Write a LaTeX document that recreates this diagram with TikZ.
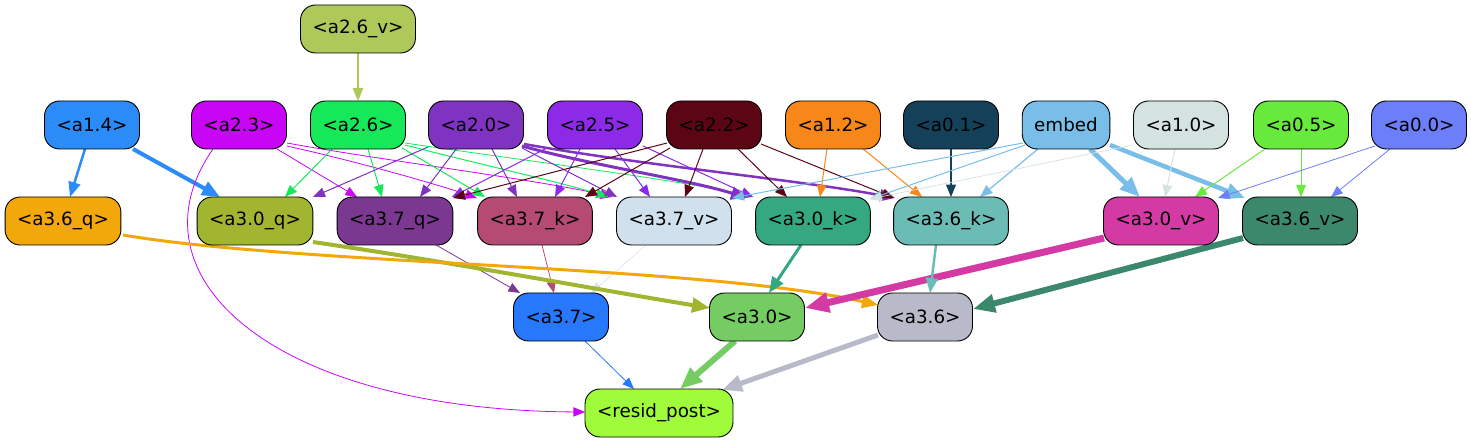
\documentclass[tikz,border=0pt]{standalone}
\usepackage{fontspec}
\setmainfont{DejaVu Sans}
\usetikzlibrary{arrows.meta,backgrounds}

\definecolor{c26v}{HTML}{AFC85A}
\definecolor{c14}{HTML}{2C8CF7}
\definecolor{c23}{HTML}{C905F6}
\definecolor{c26}{HTML}{15E95A}
\definecolor{c20}{HTML}{8032C0}
\definecolor{c25}{HTML}{8C2AE8}
\definecolor{c22}{HTML}{5C0514}
\definecolor{c12}{HTML}{F68718}
\definecolor{c01}{HTML}{15405A}
\definecolor{cembed}{HTML}{78BEE8}
\definecolor{c10}{HTML}{D4E3E0}
\definecolor{c05}{HTML}{68EA3C}
\definecolor{c00}{HTML}{6C7EF8}
\definecolor{c36q}{HTML}{F2A70A}
\definecolor{c30q}{HTML}{A2B530}
\definecolor{c37q}{HTML}{7A3890}
\definecolor{c37k}{HTML}{B54A72}
\definecolor{c37v}{HTML}{D0E0EC}
\definecolor{c30k}{HTML}{35A882}
\definecolor{c36k}{HTML}{6CBCB6}
\definecolor{c30v}{HTML}{D43AA4}
\definecolor{c36v}{HTML}{3C886C}
\definecolor{c37}{HTML}{2878FC}
\definecolor{c30}{HTML}{74CC62}
\definecolor{c36}{HTML}{B8BACA}
\definecolor{cresid}{HTML}{A0FC3A}

\tikzset{
  box/.style={draw=black, line width=0.9pt, rounded corners=15pt,
    minimum height=48pt, inner xsep=12pt, inner ysep=0pt,
    font=\fontsize{18.3}{22}\selectfont},
  link/.style={line width=#1, -{Triangle[length=10pt 2,width=8pt 1.6]}},
}

\begin{document}
\begin{tikzpicture}[x=1pt,y=-1pt]
  \useasboundingbox (0,0) rectangle (1471,443);

  % top row
  \node[box,fill=c26v] (a26v) at (358,29) {<a2.6\_v>};

  % attention heads and embed
  \node[box,fill=c14]    (a14)   at (92,125)   {<a1.4>};
  \node[box,fill=c23]    (a23)   at (239,125)  {<a2.3>};
  \node[box,fill=c26]    (a26)   at (358,125)  {<a2.6>};
  \node[box,fill=c20]    (a20)   at (476,125)  {<a2.0>};
  \node[box,fill=c25]    (a25)   at (595,125)  {<a2.5>};
  \node[box,fill=c22]    (a22)   at (714,125)  {<a2.2>};
  \node[box,fill=c12]    (a12)   at (833,125)  {<a1.2>};
  \node[box,fill=c01]    (a01)   at (951,125)  {<a0.1>};
  \node[box,fill=cembed] (embed) at (1066,125) {embed};
  \node[box,fill=c10]    (a10)   at (1181,125) {<a1.0>};
  \node[box,fill=c05]    (a05)   at (1301,125) {<a0.5>};
  \node[box,fill=c00]    (a00)   at (1419,125) {<a0.0>};

  % q / k / v inputs
  \node[box,fill=c36q] (a36q) at (63,221)   {<a3.6\_q>};
  \node[box,fill=c30q] (a30q) at (255,221)  {<a3.0\_q>};
  \node[box,fill=c37q] (a37q) at (395,221)  {<a3.7\_q>};
  \node[box,fill=c37k] (a37k) at (535,221)  {<a3.7\_k>};
  \node[box,fill=c37v] (a37v) at (674,221)  {<a3.7\_v>};
  \node[box,fill=c30k] (a30k) at (813,221)  {<a3.0\_k>};
  \node[box,fill=c36k] (a36k) at (951,221)  {<a3.6\_k>};
  \node[box,fill=c30v] (a30v) at (1161,221) {<a3.0\_v>};
  \node[box,fill=c36v] (a36v) at (1300,221) {<a3.6\_v>};

  % layer 3 heads
  \node[box,fill=c37] (a37) at (561,317) {<a3.7>};
  \node[box,fill=c30] (a30) at (757,317) {<a3.0>};
  \node[box,fill=c36] (a36) at (925,317) {<a3.6>};

  \node[box,fill=cresid] (resid) at (659,413) {<resid\_post>};

  \begin{scope}[on background layer]
    % into a2.6
    \draw[link=1.5pt,c26v] ([shift={(0,24)}]a26v.center) -- ([shift={(0,-24)}]a26.center);

    % from a1.4
    \draw[link=2.5pt,c14] ([shift={(-7,24)}]a14.center) -- ([shift={(7,-24)}]a36q.center);
    \draw[link=4pt,c14] ([shift={(41,24)}]a14.center) -- ([shift={(-35,-24)}]a30q.center);

    % from a2.3
    \draw[link=0.8pt,c23] ([shift={(38,24)}]a23.center) -- ([shift={(-38,-24)}]a37q.center);
    \draw[link=0.8pt,c23] ([shift={(48,21)}]a23.center) .. controls (350,160) and (430,182) .. ([shift={(-58,-23)}]a37k.center);
    \draw[link=0.8pt,c23] ([shift={(48,18)}]a23.center) .. controls (380,160) and (540,180) .. ([shift={(-62,-24)}]a37v.center);
    \draw[link=0.8pt,c23] ([shift={(-26,24)}]a23.center) .. controls (125,275) and (270,410) .. ([shift={(-74,-1)}]resid.center);

    % from a2.6
    \draw[link=1pt,c26] ([shift={(-26,24)}]a26.center) -- ([shift={(30,-24)}]a30q.center);
    \draw[link=1pt,c26] ([shift={(10,24)}]a26.center) -- ([shift={(-13,-24)}]a37q.center);
    \draw[link=1pt,c26] ([shift={(44,23)}]a26.center) -- ([shift={(-50,-24)}]a37k.center);
    \draw[link=1pt,c26] ([shift={(47,20)}]a26.center) .. controls (470,162) and (560,182) .. ([shift={(-66,-24)}]a37v.center);
    \draw[link=0.8pt,c26] ([shift={(47,18)}]a26.center) .. controls (520,160) and (680,180) .. ([shift={(-60,-24)}]a30k.center);

    % from a2.0
    \draw[link=1pt,c20] ([shift={(-48,22)}]a20.center) -- ([shift={(58,-24)}]a30q.center);
    \draw[link=1pt,c20] ([shift={(-19,23)}]a20.center) -- ([shift={(25,-24)}]a37q.center);
    \draw[link=1pt,c20] ([shift={(16,24)}]a20.center) -- ([shift={(-18,-24)}]a37k.center);
    \draw[link=1pt,c20] ([shift={(46,23)}]a20.center) -- ([shift={(-57,-24)}]a37v.center);
    \draw[link=3pt,c20] ([shift={(46,21)}]a20.center) .. controls (590,165) and (690,180) .. ([shift={(-66,-23)}]a30k.center);
    \draw[link=2.5pt,c20] ([shift={(48,19)}]a20.center) .. controls (640,165) and (800,180) .. ([shift={(-56,-23)}]a36k.center);

    % from a2.5
    \draw[link=1pt,c25] ([shift={(-48,23)}]a25.center) -- ([shift={(57,-24)}]a37q.center);
    \draw[link=1pt,c25] ([shift={(-15,24)}]a25.center) -- ([shift={(20,-24)}]a37k.center);
    \draw[link=1pt,c25] ([shift={(20,24)}]a25.center) -- ([shift={(-24,-24)}]a37v.center);
    \draw[link=1pt,c25] ([shift={(48,21)}]a25.center) -- ([shift={(-60,-24)}]a30k.center);

    % from a2.2
    \draw[link=1pt,c22] ([shift={(-47,18)}]a22.center) -- ([shift={(58,-23)}]a37q.center);
    \draw[link=1pt,c22] ([shift={(-44,23)}]a22.center) -- ([shift={(50,-24)}]a37k.center);
    \draw[link=1pt,c22] ([shift={(-11,24)}]a22.center) -- ([shift={(11,-24)}]a37v.center);
    \draw[link=1pt,c22] ([shift={(24,24)}]a22.center) -- ([shift={(-26,-24)}]a30k.center);
    \draw[link=1pt,c22] ([shift={(47,19)}]a22.center) -- ([shift={(-57,-23)}]a36k.center);

    % from a1.2 and a0.1
    \draw[link=1pt,c12] ([shift={(-6,24)}]a12.center) -- ([shift={(7,-24)}]a30k.center);
    \draw[link=1pt,c12] ([shift={(29,23)}]a12.center) -- ([shift={(-29,-24)}]a36k.center);
    \draw[link=1.2pt,c01] ([shift={(0,24)}]a01.center) -- ([shift={(0,-24)}]a36k.center);

    % from embed
    \draw[link=1pt,cembed] ([shift={(-43,18)}]embed.center) -- ([shift={(58,-23)}]a37v.center);
    \draw[link=1pt,cembed] ([shift={(-41,20)}]embed.center) -- ([shift={(57,-22)}]a30k.center);
    \draw[link=1.2pt,cembed] ([shift={(-28,24)}]embed.center) -- ([shift={(29,-24)}]a36k.center);
    \draw[link=5pt,cembed] ([shift={(24,24)}]embed.center) -- ([shift={(-21,-24)}]a30v.center);
    \draw[link=4.5pt,cembed] ([shift={(44,20)}]embed.center) -- ([shift={(-55,-23)}]a36v.center);

    % from a1.0, a0.5, a0.0
    \draw[link=0.7pt,c10] ([shift={(-48,20)}]a10.center) -- ([shift={(57,-22)}]a30k.center);
    \draw[link=1pt,c10] ([shift={(-6,24)}]a10.center) -- ([shift={(4,-24)}]a30v.center);
    \draw[link=1pt,c05] ([shift={(-36,24)}]a05.center) -- ([shift={(34,-24)}]a30v.center);
    \draw[link=1pt,c05] ([shift={(0,24)}]a05.center) -- ([shift={(1,-24)}]a36v.center);
    \draw[link=0.8pt,c00] ([shift={(-44,21)}]a00.center) -- ([shift={(57,-23)}]a30v.center);
    \draw[link=0.8pt,c00] ([shift={(-29,24)}]a00.center) -- ([shift={(31,-24)}]a36v.center);

    % q / k / v into layer 3 heads
    \draw[link=0.8pt,c37q] ([shift={(41,24)}]a37q.center) -- ([shift={(-41,-24)}]a37.center);
    \draw[link=0.8pt,c37k] ([shift={(7,24)}]a37k.center) -- ([shift={(-7,-24)}]a37.center);
    \draw[link=0.5pt,c37v] ([shift={(-28,24)}]a37v.center) -- ([shift={(30,-24)}]a37.center);
    \draw[link=4pt,c30q] ([shift={(58,21)}]a30q.center) .. controls (450,262) and (600,290) .. ([shift={(-47,-9)}]a30.center);
    \draw[link=3pt,c36q] ([shift={(60,14)}]a36q.center) .. controls (300,265) and (700,265) .. ([shift={(-47,-12)}]a36.center);
    \draw[link=3pt,c30k] ([shift={(-12,24)}]a30k.center) -- ([shift={(12,-24)}]a30.center);
    \draw[link=7pt,c30v] ([shift={(-57,17)}]a30v.center) -- ([shift={(48,-9)}]a30.center);
    \draw[link=2.5pt,c36k] ([shift={(-15,24)}]a36k.center) -- ([shift={(5,-24)}]a36.center);
    \draw[link=6pt,c36v] ([shift={(-57,17)}]a36v.center) -- ([shift={(48,-8)}]a36.center);

    % into resid_post
    \draw[link=0.8pt,c37] ([shift={(24,24)}]a37.center) -- ([shift={(-25,-24)}]resid.center);
    \draw[link=6pt,c30] ([shift={(-22,24)}]a30.center) -- ([shift={(21,-24)}]resid.center);
    \draw[link=5pt,c36] ([shift={(-47,18)}]a36.center) -- ([shift={(63,-23)}]resid.center);
  \end{scope}
\end{tikzpicture}
\end{document}
